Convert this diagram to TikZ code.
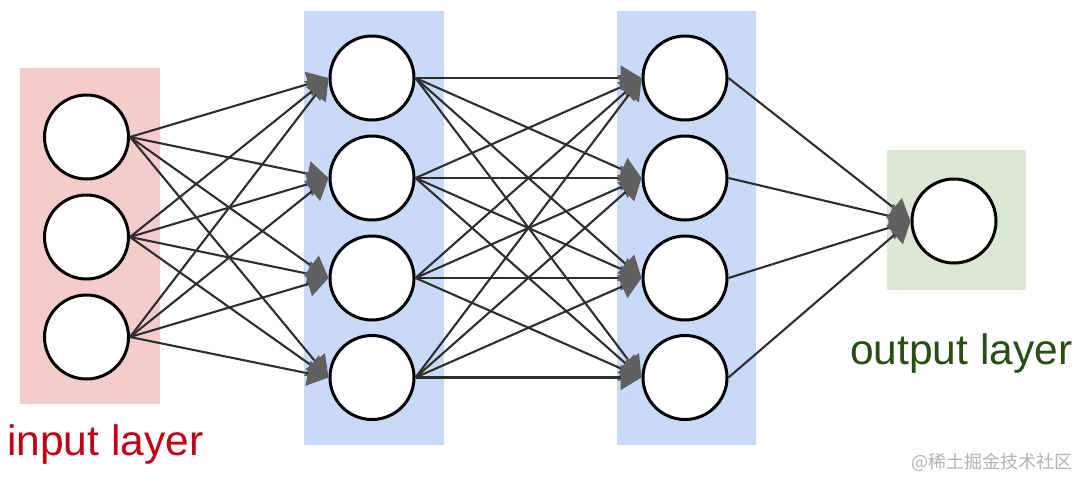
\documentclass[tikz,border=0pt]{standalone}
\usepackage{fontspec}
\setmainfont{Liberation Sans}
\newfontfamily\cjk{Noto Sans CJK SC}
\usetikzlibrary{arrows.meta}
\definecolor{pinkbg}{HTML}{F4CCCC}
\definecolor{bluebg}{HTML}{C9DAF8}
\definecolor{greenbg}{HTML}{DCE6D5}
\definecolor{linec}{HTML}{2E2E2E}
\definecolor{headc}{HTML}{606060}
\definecolor{inred}{HTML}{C00012}
\definecolor{outgreen}{HTML}{274E13}
\definecolor{wmgray}{HTML}{B3B3B3}
\tikzset{
  neuron/.style={circle, draw=black, line width=3pt, fill=white, minimum size=84pt, inner sep=0pt},
  conn/.style={draw=linec, line width=2.1pt, -{Triangle[length=21pt,width=25pt,fill=headc,color=headc]}},
  label/.style={font=\fontsize{42.5}{50}\selectfont, inner sep=0pt, anchor=base west}
}
\begin{document}
\begin{tikzpicture}[x=1pt,y=-1pt]
\useasboundingbox (0,0) rectangle (1080,477);
\fill[white] (0,0) rectangle (1080,477);
% layer boxes
\fill[pinkbg] (20,68) rectangle (160,404);
\fill[bluebg] (304,11) rectangle (444,445);
\fill[bluebg] (617,11) rectangle (756,445);
\fill[greenbg] (887,150) rectangle (1026,290);
% neurons
\foreach \i/\y in {1/137,2/237,3/337} \node[neuron] (i\i) at (86.5,\y) {};
\foreach \i/\y in {1/78,2/178,3/278,4/377.5} \node[neuron] (h\i) at (372,\y) {};
\foreach \i/\y in {1/78,2/178,3/278,4/377.5} \node[neuron] (g\i) at (685,\y) {};
\node[neuron] (o) at (954,221) {};
% connections
\foreach \a in {1,2,3} \foreach \b in {1,2,3,4} \draw[conn] (i\a.east) -- (h\b.west);
\foreach \a in {1,2,3,4} \foreach \b in {1,2,3,4} \draw[conn] (h\a.east) -- (g\b.west);
\foreach \a in {1,2,3,4} \draw[conn] (g\a.east) -- (o.west);
% labels
\node[label, text=inred] (inlab) at (7,455) {input layer};
\node[label, text=outgreen] (outlab) at (850,364) {output layer};
\node[font=\cjk\fontsize{18}{20}\selectfont, text=wmgray, inner sep=0pt, anchor=base east] (wm) at (1073,468) {@稀土掘金技术社区};
\end{tikzpicture}
\end{document}
